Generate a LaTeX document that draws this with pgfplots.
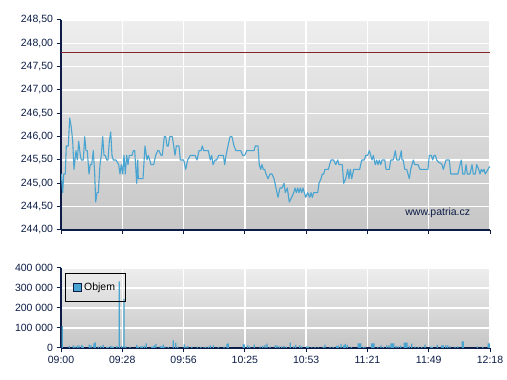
\documentclass[border=0pt]{standalone}
\usepackage{pgfplots}
\pgfplotsset{compat=1.18}
\usepackage{fontspec}
\setmainfont{Liberation Sans}
\definecolor{axisnavy}{RGB}{12,28,70}
\definecolor{lineblue}{RGB}{72,164,208}
\definecolor{refred}{RGB}{130,38,42}
\definecolor{bgtop}{RGB}{238,238,238}
\definecolor{bgbot}{RGB}{198,198,198}

\pgfplotstableread{
x y
0.3 245.2
1.7 244.8
2.7 245.2
4.3 245.2
5.3 245.8
7.3 245.8
8.7 246.4
10.3 246.2
11.7 245.9
13 245.3
15 245.7
16.3 245.5
17.7 245.9
19.3 245.6
20.3 245.5
22.3 245.5
23.7 246.0
25 245.7
26.3 245.7
28 245.2
29.3 245.4
30.7 245.4
32.3 245.7
33.7 245.2
34.7 244.6
36 244.8
37.3 244.8
39 245.4
40.3 245.6
41.7 246.0
43 245.6
44.3 245.6
45.7 245.5
47 245.5
48.3 245.9
49.7 246.1
51 245.6
52.3 245.5
55 245.5
57.7 245.4
59 245.2
60.3 245.4
61.7 245.2
63 245.6
64.3 245.2
65.7 245.6
67 245.4
68.3 245.6
69.7 245.6
71 245.6
72.3 245.7
73.7 245.7
75.7 245.0
76.7 245.5
77.3 245.1
79.3 245.1
82 245.1
84 245.8
86 245.5
87.3 245.6
88.7 245.5
90 245.4
92.7 245.4
94.7 245.6
96.7 245.7
98 245.7
100 245.6
101.3 245.6
103.3 246.0
104.7 246.0
106 245.8
107.3 245.8
108.7 246.0
111.3 246.0
112.7 245.8
114 245.6
115.3 245.8
118 245.8
119.3 245.5
122.7 245.5
124.7 245.3
126.7 245.5
129.3 245.6
131.3 245.6
134 245.6
136 245.5
138 245.7
140 245.7
141.3 245.8
142.7 245.7
147.3 245.7
149.3 245.5
150.7 245.6
152 245.4
154 245.5
155.7 245.5
157.7 245.6
162.3 245.6
163.7 245.4
165 245.6
167 245.8
169 246.0
171 246.0
173 245.8
175 245.7
179.7 245.7
181.7 245.6
183.7 245.6
185.7 245.7
193 245.7
194.3 245.8
197 245.8
198.3 245.4
199.7 245.3
201 245.4
202.3 245.3
203.7 245.3
205 245.2
207 245.1
209 245.2
211 245.2
213 245.1
215 244.9
217 244.7
219 244.9
221 244.9
223 245.0
224.3 244.8
226.3 244.9
228.3 244.6
230.7 244.7
232.7 244.8
234 244.9
235.3 244.8
236.7 244.9
238 244.8
239.3 244.9
240.7 244.8
242 244.9
243.3 244.8
244.7 244.7
246.7 244.8
248.7 244.7
250 244.8
251.3 244.7
252.7 244.8
256.7 244.8
258 245.0
260 245.1
261.3 245.2
262.7 245.2
264 245.3
267.3 245.3
270 245.5
272.7 245.5
274.7 245.4
276.7 245.5
278 245.4
281.3 245.4
282.7 245.0
284.7 245.1
286.7 245.3
288 245.1
289.3 245.3
290.7 245.1
292.7 245.3
298.7 245.3
300.7 245.5
303.3 245.5
304.7 245.6
306.7 245.6
308.3 245.7
309.7 245.6
311 245.5
312.3 245.6
314.3 245.4
315.7 245.5
317 245.4
318.3 245.5
319.7 245.4
321 245.5
323.7 245.5
325 245.3
328.3 245.3
329.7 245.5
332.3 245.5
334.3 245.7
335.7 245.5
338.3 245.5
340.3 245.7
341 245.5
342.3 245.5
343.7 245.3
345.7 245.3
347 245.2
348.3 245.1
349.7 245.3
351 245.4
352.3 245.5
353.7 245.4
357 245.4
359 245.3
367 245.3
368.3 245.6
370.3 245.6
371.7 245.5
373 245.6
374.3 245.6
375.7 245.5
377.7 245.45
379.7 245.43
381 245.4
382.3 245.3
383.7 245.4
385 245.5
388.3 245.5
389.7 245.2
397 245.2
399 245.4
400.3 245.5
401.7 245.2
403.7 245.2
405 245.4
406.3 245.2
409 245.2
411 245.4
412.3 245.2
414.3 245.2
415.7 245.4
417.7 245.3
419 245.2
420.3 245.3
421.7 245.25
423 245.3
424.3 245.2
425.7 245.25
427 245.3
428.3 245.35
429 245.35
}\pricetable

\pgfplotstableread{
x v
1.3 109000
8.3 10000
12.3 13400
14 6700
16.3 11800
18 13400
20.7 15000
22.3 6700
28.3 16800
30 13400
33 23500
34.3 28500
37.3 6700
39.7 10000
42.3 15000
45.7 5000
47.3 5000
49.7 10000
51.3 6700
52.3 6700
55.7 10000
58.3 333000
60.7 10000
63 245000
64.7 8400
69 5000
75.7 15000
77.3 6700
79.7 8400
81.3 8400
83.3 10000
85.3 23500
90.7 6700
92 6700
93.3 13400
95 20000
99.3 10000
100.7 6700
102.3 16800
104 6700
107.3 5000
112.3 38600
114.7 25000
116.7 6700
123.3 18500
125 6700
126.7 10000
130.7 5000
136.3 6700
139.7 5000
143 3400
144.7 5000
147.3 6700
149.3 13400
152.3 13400
157.3 5000
163 5000
166 20000
167.3 23500
182.3 18500
183.3 18500
186.7 13400
188.7 6700
193.3 16800
199 8400
201.7 10000
204 15000
206 22000
209 6700
214.3 13400
216 13400
218.3 8400
220.7 8400
223 10000
225.3 5000
229.3 27000
232.7 8400
234.7 15000
238.7 13400
240.7 8400
245.7 8400
247.3 6700
250.7 3400
254 5000
257.3 3400
262.3 5000
264 16800
269 5000
272.3 5000
275.7 10000
277.3 11800
280 20000
282.7 13400
284.3 20000
286.3 15000
290.3 5000
297.3 23500
298.3 23500
299.7 23500
302.3 5000
304 5000
310.7 23500
312 23500
313 23500
316.7 5000
320 13400
322.3 5000
325.7 13400
328 13400
330 23500
331.3 23500
332.7 23500
335 10000
337.3 8400
339.7 11800
343.3 27000
344.7 27000
346 27000
348.3 10000
350.7 22000
354 6700
357.3 5000
360.7 5000
364 16800
369.7 6700
371.3 5000
376.3 15000
380.7 13400
382.3 13400
384.7 13400
386.7 13400
389 8400
394 5000
396.7 8400
401.3 33600
402.3 33600
416.3 8400
421.7 5000
427.3 23500
428.3 23500
}\voltable

\pgfplotsset{
  common/.style={
    scale only axis, width=429pt,
    xmin=0, xmax=429,
    xtick={0,61.29,122.57,183.86,245.14,306.43,367.71,429},
    axis x line*=bottom, axis y line*=left,
    axis line style={axisnavy, line width=1.3pt},
    tick style={axisnavy, line width=1pt},
    tick align=outside, major tick length=4.5pt,
    grid=major, grid style={white, line width=1.3pt},
    tick label style={font=\fontsize{10.5}{12}\selectfont, text=axisnavy},
    /pgf/number format/assume math mode=true,
    axis background/.style={shade, top color=bgtop, bottom color=bgbot},
  }
}

\begin{document}
\begin{tikzpicture}
\path[use as bounding box] (0,0) rectangle (507pt,380pt);
\begin{axis}[common,
  at={(61pt,150pt)}, anchor=south west,
  height=210pt,
  ymin=244, ymax=248.5,
  ytick={244,244.5,245,245.5,246,246.5,247,247.5,248,248.5},
  xticklabels={},
  yticklabel style={/pgf/number format/.cd, fixed, fixed zerofill, precision=2, use comma},
]
\addplot[refred, line width=0.8pt] coordinates {(0,247.8) (429,247.8)};
\addplot[lineblue, line width=1.1pt, line join=round] table[x=x, y=y] {\pricetable};
\node[anchor=east, font=\fontsize{10.5}{12}\selectfont, text=axisnavy] at (rel axis cs:0.962,0.081) {www.patria.cz};
\end{axis}

\begin{axis}[common,
  at={(61pt,32pt)}, anchor=south west,
  height=80pt,
  ymin=0, ymax=400000,
  ytick={0,100000,200000,300000,400000},
  yticklabels={0,100 000,200 000,300 000,400 000},
  scaled y ticks=false,
  xticklabels={09:00,09:28,09:56,10:25,10:53,11:21,11:49,12:18},
  legend style={at={(0.0093,0.934)}, anchor=north west, draw=black, line width=1pt, fill=none,
    inner xsep=7.5pt, inner ysep=7.5pt, font=\fontsize{10.5}{12}\selectfont,
    nodes={inner xsep=2.5pt}},
  legend image code/.code={\draw[draw=axisnavy, fill=lineblue, line width=0.6pt] (0pt,-3.5pt) rectangle (8pt,4.5pt);},
]
\addplot[ybar, bar width=1.3pt, fill=lineblue, draw=none] table[x=x, y=v] {\voltable};
\addlegendentry{Objem}
\end{axis}
\end{tikzpicture}
\end{document}
